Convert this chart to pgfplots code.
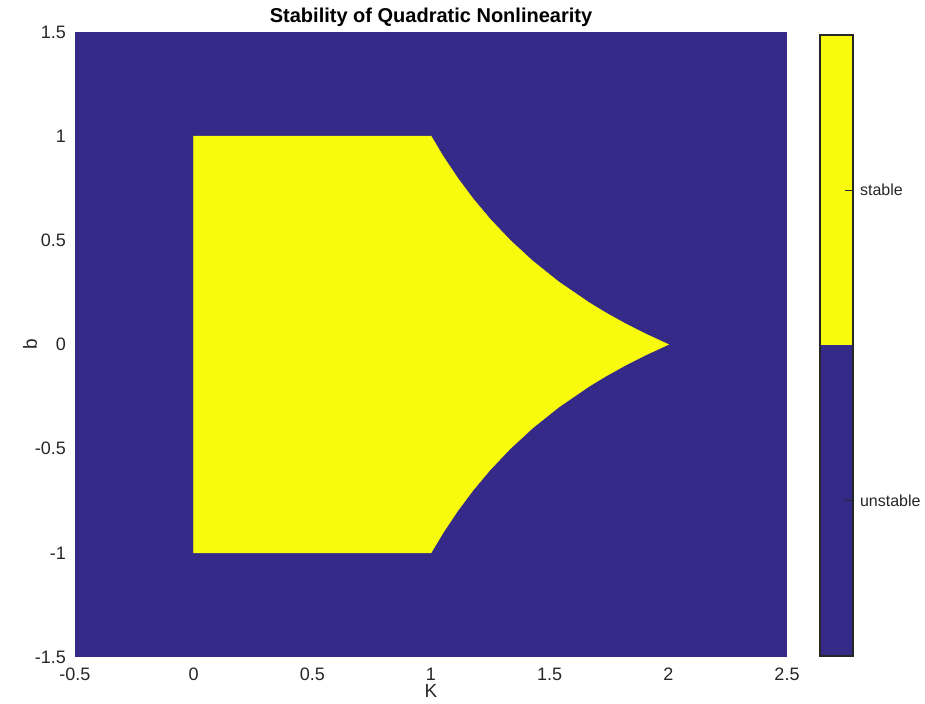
\documentclass[border=0pt]{standalone}
\usepackage{pgfplots}
\pgfplotsset{compat=1.18}
\usepackage{fontspec}
\setmainfont{Liberation Sans}

\definecolor{parblue}{RGB}{53,42,135}
\definecolor{paryellow}{RGB}{249,251,14}
\definecolor{labelgray}{RGB}{38,38,38}

\begin{document}
\begin{tikzpicture}
% overall page extent
\path[use as bounding box] (-37.5pt,-23.5pt) rectangle (425pt,328.5pt);

\begin{axis}[
  at={(0pt,0pt)}, anchor=south west,
  scale only axis,
  width=356pt, height=312.5pt,
  xmin=-0.5, xmax=2.5, ymin=-1.5, ymax=1.5,
  xtick={-0.5,0,...,2.5}, ytick={-1.5,-1,...,1.5},
  axis line style={draw=none},
  major tick length=0pt,
  axis background/.style={fill=parblue},
  /pgf/number format/assume math mode=true,
  tick label style={font=\fontsize{9}{10}\selectfont, text=labelgray},
  xticklabel style={yshift=-2pt},
  yticklabel style={xshift=-1pt},
  xlabel={K}, ylabel={b},
  label style={font=\fontsize{9.5}{11}\selectfont, text=labelgray},
  xlabel style={yshift=5pt},
  ylabel style={yshift=-8pt},
  title={\textbf{Stability of Quadratic Nonlinearity}},
  title style={font=\fontsize{10}{11}\selectfont, yshift=-7pt},
]
% stable region: 0 <= K, |b| <= 1, K(1+|b|) < 2
\addplot[fill=paryellow, draw=paryellow, line width=0.3pt] coordinates {
  (0,-1) (0,1) (1,1)
  (1.0526,0.9) (1.1111,0.8) (1.1765,0.7) (1.25,0.6) (1.3333,0.5)
  (1.4286,0.4) (1.5385,0.3) (1.6667,0.2) (1.7391,0.15) (1.8182,0.1)
  (1.9048,0.05) (2,0)
  (1.9048,-0.05) (1.8182,-0.1) (1.7391,-0.15) (1.6667,-0.2) (1.5385,-0.3)
  (1.4286,-0.4) (1.3333,-0.5) (1.25,-0.6) (1.1765,-0.7) (1.1111,-0.8)
  (1.0526,-0.9) (1,-1)
} -- cycle;
\end{axis}

% colour bar
\begin{axis}[
  at={(372.5pt,0.5pt)}, anchor=south west,
  scale only axis,
  width=16.5pt, height=310.5pt,
  xmin=0, xmax=1, ymin=0, ymax=2,
  xtick=\empty,
  ytick={0.5,1.5}, yticklabels={unstable,stable},
  ytick pos=right,
  yticklabel pos=right,
  y tick style={draw=labelgray, line width=0.5pt},
  major tick length=4pt,
  tick align=inside,
  axis line style={draw=labelgray, line width=0.6pt},
  tick label style={font=\fontsize{8}{9}\selectfont, text=labelgray},
  axis on top,
]
\addplot[fill=parblue, draw=none] coordinates {(0,0) (1,0) (1,1) (0,1)} -- cycle;
\addplot[fill=paryellow, draw=none] coordinates {(0,1) (1,1) (1,2) (0,2)} -- cycle;
\end{axis}
\end{tikzpicture}
\end{document}
